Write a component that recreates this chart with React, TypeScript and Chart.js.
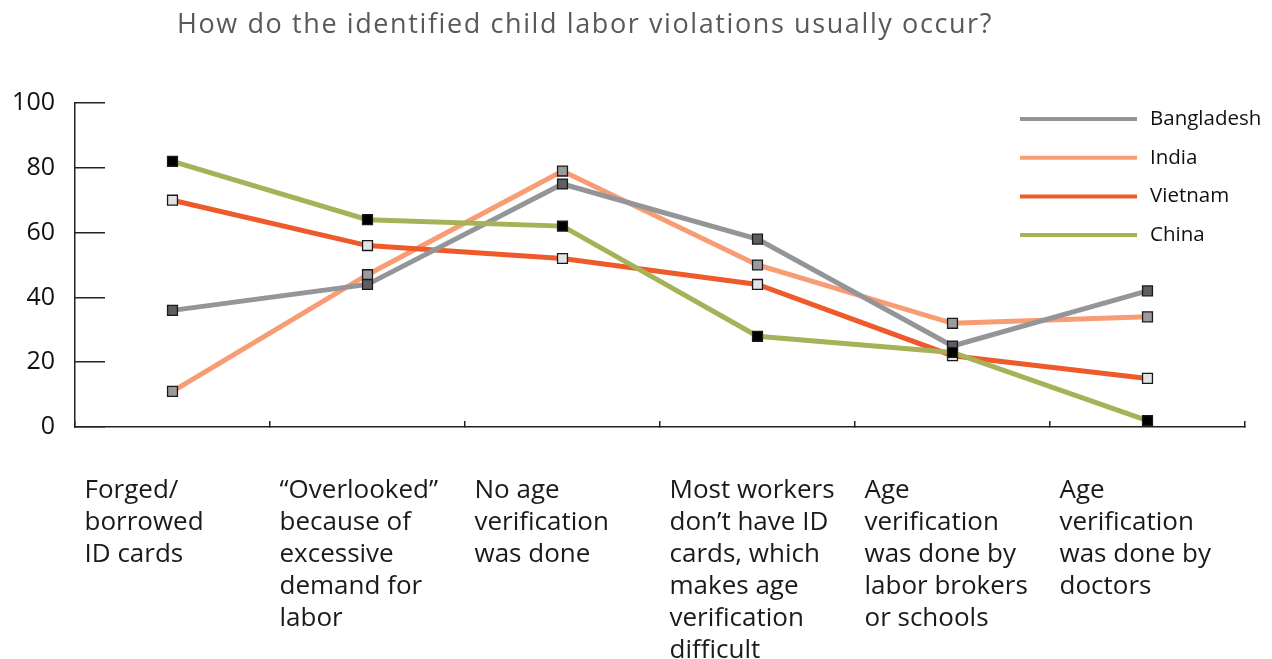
import React, { useEffect, useRef } from "react";
import { Chart, registerables } from "chart.js";

Chart.register(...registerables);

const TITLE = "How do the identified child labor violations usually occur?";

const categories: string[][] = [
  ["Forged/", "borrowed", "ID cards"],
  ["\u201COverlooked\u201D", "because of", "excessive", "demand for", "labor"],
  ["No age", "verification", "was done"],
  ["Most workers", "don\u2019t have ID", "cards, which", "makes age", "verification", "difficult"],
  ["Age", "verification", "was done by", "labor brokers", "or schools"],
  ["Age", "verification", "was done by", "doctors"],
];

const seriesNames = ["Bangladesh", "India", "Vietnam", "China"];

const bangladesh = [36, 44, 75, 58, 25, 42];
const india = [11, 47, 79, 50, 32, 34];
const vietnam = [70, 56, 52, 44, 22, 15];
const china = [82, 64, 62, 28, 23, 2];

const yTicks = [0, 20, 40, 60, 80, 100];

const lineColors = ["#939598", "#F89C74", "#EF5A2A", "#A6B257"];
const markerFills = ["#5e5e60", "#9b9b9d", "#e3e3e3", "#000000"];
const drawOrder = [1, 3, 2, 0];

const overlayPlugin = {
  id: "overlay",
  afterDraw(chart: any) {
    const ctx = chart.ctx;
    ctx.save();
    ctx.font = '27px "Open Sans"';
    ctx.fillStyle = "#58595b";
    ctx.textAlign = "center";
    ctx.textBaseline = "middle";
    try { ctx.letterSpacing = "1.6px"; } catch (e) {}
    ctx.fillText(TITLE, 585, 25);
    try { ctx.letterSpacing = "0px"; } catch (e) {}

    chart.data.datasets.forEach((ds: any, i: number) => {
      const y = 119 + i * 38.7;
      ctx.strokeStyle = ds.borderColor;
      ctx.lineWidth = 4;
      ctx.beginPath();
      ctx.moveTo(1020, y);
      ctx.lineTo(1137, y);
      ctx.stroke();
      ctx.fillStyle = "#111";
      ctx.font = '20.5px "Open Sans"';
      ctx.textAlign = "left";
      ctx.textBaseline = "middle";
      ctx.fillText(ds.label, 1150, y);
    });
    ctx.restore();
  },
};

export default function App() {
  const ref = useRef<HTMLCanvasElement>(null);
  useEffect(() => {
    const values = [bangladesh, india, vietnam, china];
    const chart = new Chart(ref.current!, {
      type: "line",
      data: {
        labels: categories,
        datasets: values.map((v, i) => ({
          label: seriesNames[i],
          data: v,
          borderColor: lineColors[i],
          borderWidth: 5,
          pointStyle: "rect",
          pointRadius: 7,
          pointBackgroundColor: markerFills[i],
          pointBorderColor: "#1a1a1a",
          pointBorderWidth: 1.3,
          tension: 0,
          order: drawOrder[i],
        })),
      },
      options: {
        animation: false,
        responsive: true,
        maintainAspectRatio: false,
        layout: { padding: { top: 103, right: 27, left: 0, bottom: 0 } },
        plugins: { legend: { display: false }, title: { display: false }, tooltip: { enabled: false } },
        scales: {
          x: {
            type: "category",
            offset: true,
            grid: { offset: true, drawOnChartArea: false, tickLength: -6, color: "#222", lineWidth: 1.5 },
            border: { color: "#222", width: 1.5 },
            ticks: {
              align: "start",
              labelOffset: -88,
              padding: 54,
              color: "#1a1a1a",
              font: { family: '"Open Sans"', size: 26, lineHeight: 1.23 },
              maxRotation: 0,
              autoSkip: false,
            },
            afterFit: (s: any) => {
              s.height = 232;
              s.paddingLeft = 0;
              s.paddingRight = 0;
            },
          },
          y: {
            min: 0,
            max: 100,
            afterBuildTicks: (s: any) => { s.ticks = yTicks.map((v) => ({ value: v })); },
            grid: { drawOnChartArea: false, tickLength: -30, color: "#222", lineWidth: 1.5 },
            border: { color: "#222", width: 1.5 },
            ticks: {
              padding: 50,
              color: "#111",
              font: { family: '"Open Sans"', size: 25 },
            },
            afterFit: (s: any) => {
              s.width = 75;
              s.paddingTop = 0;
              s.paddingBottom = 0;
            },
          },
        },
      },
      plugins: [overlayPlugin],
    });
    return () => chart.destroy();
  }, []);
  return (
    <div style={{ position: "fixed", left: 0, top: 0, width: 1272, height: 659, background: "#fff" }}>
      <canvas ref={ref} />
    </div>
  );
}
